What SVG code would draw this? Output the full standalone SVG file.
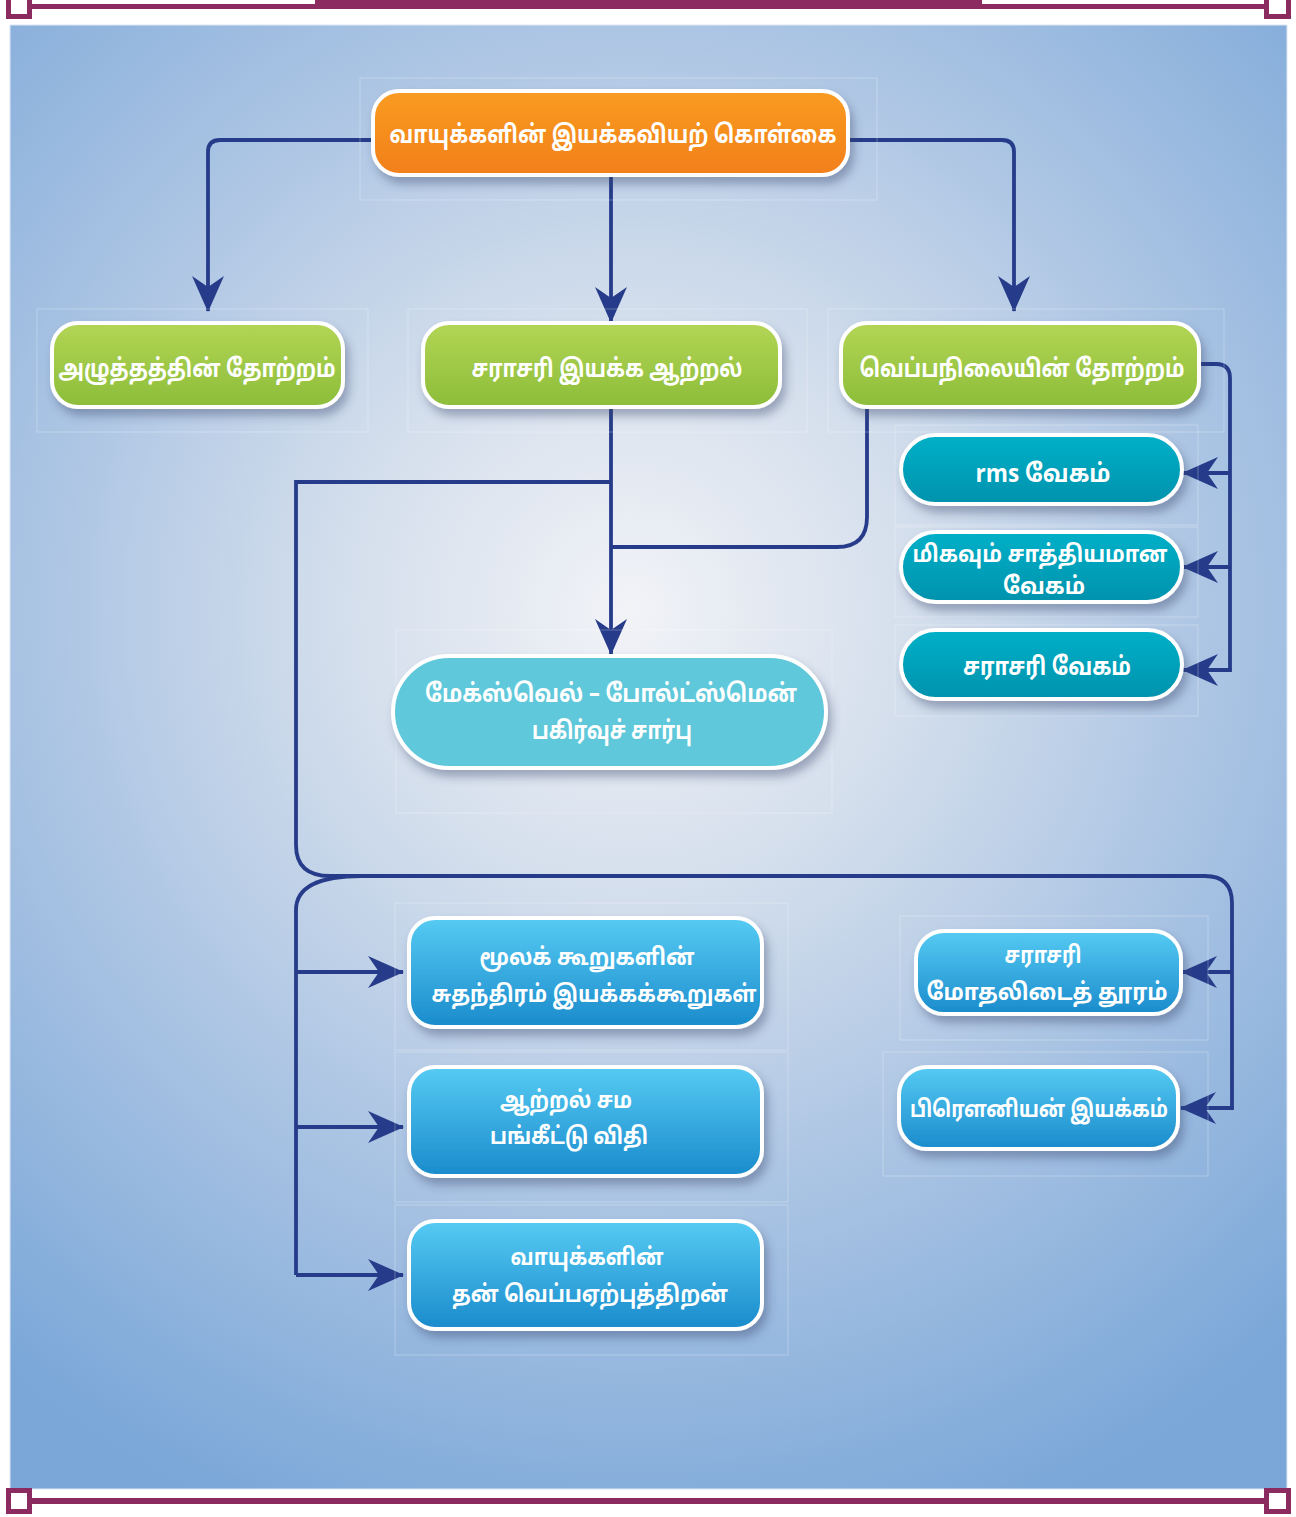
<svg xmlns="http://www.w3.org/2000/svg" width="1296" height="1517" viewBox="0 0 1296 1517">
<style>
.t{font-family:"Noto Sans Tamil","Lohit Tamil","Noto Sans","DejaVu Sans",sans-serif;font-weight:bold;fill:#ffffff;text-anchor:middle}
.f26{font-size:25px}
.f24{font-size:23.5px}
.nb{stroke:#ffffff;stroke-width:4}
.fr{fill:none;stroke:#ffffff;stroke-opacity:0.28;stroke-width:1}
.c{fill:none;stroke:#263c8a;stroke-width:3.8}
.a{fill:none;stroke:#263c8a;stroke-width:3.8;marker-end:url(#ah)}
.pb{fill:#8b2b60}
.sq{fill:#ffffff;stroke:#8b2b60;stroke-width:5}
</style>
<defs>
<radialGradient id="bg" gradientUnits="userSpaceOnUse" cx="630" cy="610" r="980">
<stop offset="0" stop-color="#f2f3f7"/>
<stop offset="0.3" stop-color="#d3deec"/>
<stop offset="0.62" stop-color="#a9c3e3"/>
<stop offset="1" stop-color="#7aa7d8"/>
</radialGradient>
<linearGradient id="gO" x1="0" y1="0" x2="0" y2="1"><stop offset="0" stop-color="#f99c20"/><stop offset="1" stop-color="#f27f1e"/></linearGradient>
<linearGradient id="gG" x1="0" y1="0" x2="0" y2="1"><stop offset="0" stop-color="#b3d555"/><stop offset="1" stop-color="#8cbd3a"/></linearGradient>
<linearGradient id="gT" x1="0" y1="0" x2="0" y2="1"><stop offset="0" stop-color="#00b0c8"/><stop offset="1" stop-color="#0092ad"/></linearGradient>
<linearGradient id="gB" x1="0" y1="0" x2="0" y2="1"><stop offset="0" stop-color="#56cbf3"/><stop offset="1" stop-color="#1a8bcc"/></linearGradient>
<filter id="sh" x="-20%" y="-30%" width="140%" height="170%">
<feDropShadow dx="4" dy="7" stdDeviation="5" flood-color="#34446a" flood-opacity="0.4"/>
</filter>
<marker id="ah" viewBox="0 0 36 32" refX="35" refY="16" markerWidth="36" markerHeight="32" markerUnits="userSpaceOnUse" orient="auto">
<path d="M0,0 L36,16 L0,32 L11,16 Z" fill="#263c8a"/>
</marker>
</defs>

<!-- frame -->
<g id="frame">
<rect x="0" y="0" width="1296" height="1517" fill="#ffffff"/>
<rect x="10" y="25" width="1277" height="1464" fill="url(#bg)" stroke="#dde8f4" stroke-width="1"/>
<rect class="pb" x="28" y="4" width="1240" height="5"/>
<rect class="pb" x="315" y="0" width="667" height="9"/>
<rect class="sq" x="8.5" y="-5" width="21" height="21.5"/>
<rect class="sq" x="1266.5" y="-5" width="22" height="21.5"/>
<rect class="pb" x="28" y="1498" width="1240" height="6"/>
<rect class="sq" x="8.5" y="1490.5" width="21" height="21"/>
<rect class="sq" x="1266.5" y="1490.5" width="22" height="21"/>
</g>

<!-- connectors -->
<g id="connectors">
<path class="a" d="M373,140 H220 Q208,140 208,152 V311"/>
<path class="a" d="M611,175 V322"/>
<path class="a" d="M850,140 H1002 Q1014,140 1014,152 V311"/>
<path class="a" d="M611,407 V654"/>
<path class="c" d="M867,407 V517 Q867,547 837,547 H611"/>
<path class="c" d="M611,482 H296 V845 Q296,876 330,876 H1205 Q1232,876 1232,903 V1108"/>
<path class="c" d="M362,876 Q296,876 296,910 V1275"/>
<path class="a" d="M296,972 H403"/>
<path class="a" d="M296,1127 H403"/>
<path class="a" d="M296,1275 H403"/>
<path class="a" d="M1232,972 H1182"/>
<path class="a" d="M1233.9,1108 H1181"/>
<path class="c" d="M1200,364 H1216 Q1230,364 1230,378 V670"/>
<path class="a" d="M1230,473 H1183"/>
<path class="a" d="M1230,567 H1183"/>
<path class="a" d="M1231.9,670 H1183"/>
</g>

<!-- nodes -->
<g id="n-top">
<rect class="fr" x="360" y="78" width="517" height="122"/>
<rect class="nb" x="373" y="91" width="475" height="84" rx="26" fill="url(#gO)" filter="url(#sh)"/>
<text class="t f26" x="613" y="143" textLength="447" lengthAdjust="spacingAndGlyphs">வாயுக்களின் இயக்கவியற் கொள்கை</text>
</g>
<g id="n-pressure">
<rect class="fr" x="37" y="309" width="331" height="123"/>
<rect class="nb" x="52" y="323" width="291" height="84" rx="26" fill="url(#gG)" filter="url(#sh)"/>
<text class="t f26" x="197" y="377" textLength="277" lengthAdjust="spacingAndGlyphs">அழுத்தத்தின் தோற்றம்</text>
</g>
<g id="n-ke">
<rect class="fr" x="408" y="309" width="399" height="123"/>
<rect class="nb" x="423" y="323" width="357" height="84" rx="26" fill="url(#gG)" filter="url(#sh)"/>
<text class="t f26" x="607" y="377" textLength="271" lengthAdjust="spacingAndGlyphs">சராசரி இயக்க ஆற்றல்</text>
</g>
<g id="n-temp">
<rect class="fr" x="828" y="309" width="396" height="123"/>
<rect class="nb" x="841" y="323" width="358" height="84" rx="26" fill="url(#gG)" filter="url(#sh)"/>
<text class="t f26" x="1022" y="377" textLength="325" lengthAdjust="spacingAndGlyphs">வெப்பநிலையின் தோற்றம்</text>
</g>
<g id="n-rms">
<rect class="fr" x="895" y="425" width="303" height="100"/>
<rect class="nb" x="901" y="435" width="281" height="69" rx="34.5" fill="url(#gT)" filter="url(#sh)"/>
<text class="t f26" x="1043" y="482" textLength="135" lengthAdjust="spacingAndGlyphs">rms வேகம்</text>
</g>
<g id="n-mp">
<rect class="fr" x="895" y="527" width="303" height="90"/>
<rect class="nb" x="901" y="532" width="281" height="70" rx="35" fill="url(#gT)" filter="url(#sh)"/>
<text class="t f24" x="1040" y="562" textLength="255" lengthAdjust="spacingAndGlyphs">மிகவும் சாத்தியமான</text>
<text class="t f24" x="1044" y="594" textLength="82" lengthAdjust="spacingAndGlyphs">வேகம்</text>
</g>
<g id="n-avg">
<rect class="fr" x="895" y="625" width="303" height="91"/>
<rect class="nb" x="901" y="630" width="281" height="69" rx="34.5" fill="url(#gT)" filter="url(#sh)"/>
<text class="t f26" x="1047" y="675" textLength="168" lengthAdjust="spacingAndGlyphs">சராசரி வேகம்</text>
</g>
<g id="n-maxwell">
<rect class="fr" x="396" y="630" width="436" height="183"/>
<rect class="nb" x="393" y="656" width="433" height="112" rx="56" fill="#5ec8da" filter="url(#sh)"/>
<text class="t f26" x="611" y="702" textLength="372" lengthAdjust="spacingAndGlyphs">மேக்ஸ்வெல் – போல்ட்ஸ்மென்</text>
<text class="t f26" x="612" y="739" textLength="160" lengthAdjust="spacingAndGlyphs">பகிர்வுச் சார்பு</text>
</g>
<g id="n-dof">
<rect class="fr" x="395" y="903" width="393" height="147"/>
<rect class="nb" x="409" y="918" width="353" height="109" rx="26" fill="url(#gB)" filter="url(#sh)"/>
<text class="t f24" x="587" y="965" textLength="215" lengthAdjust="spacingAndGlyphs">மூலக் கூறுகளின்</text>
<text class="t f24" x="594" y="1002" textLength="325" lengthAdjust="spacingAndGlyphs">சுதந்திரம் இயக்கக்கூறுகள்</text>
</g>
<g id="n-equi">
<rect class="fr" x="395" y="1052" width="393" height="150"/>
<rect class="nb" x="409" y="1067" width="353" height="109" rx="26" fill="url(#gB)" filter="url(#sh)"/>
<text class="t f24" x="566" y="1108" textLength="132" lengthAdjust="spacingAndGlyphs">ஆற்றல் சம</text>
<text class="t f24" x="569" y="1144" textLength="158" lengthAdjust="spacingAndGlyphs">பங்கீட்டு விதி</text>
</g>
<g id="n-heat">
<rect class="fr" x="395" y="1205" width="393" height="150"/>
<rect class="nb" x="409" y="1221" width="353" height="108" rx="26" fill="url(#gB)" filter="url(#sh)"/>
<text class="t f24" x="587" y="1265" textLength="153" lengthAdjust="spacingAndGlyphs">வாயுக்களின்</text>
<text class="t f24" x="590" y="1302" textLength="276" lengthAdjust="spacingAndGlyphs">தன் வெப்பஏற்புத்திறன்</text>
</g>
<g id="n-mfp">
<rect class="fr" x="900" y="916" width="308" height="124"/>
<rect class="nb" x="916" y="931" width="265" height="83" rx="28" fill="url(#gB)" filter="url(#sh)"/>
<text class="t f24" x="1043" y="963" textLength="77" lengthAdjust="spacingAndGlyphs">சராசரி</text>
<text class="t f24" x="1047" y="1000" textLength="241" lengthAdjust="spacingAndGlyphs">மோதலிடைத் தூரம்</text>
</g>
<g id="n-brown">
<rect class="fr" x="883" y="1052" width="325" height="124"/>
<rect class="nb" x="899" y="1067" width="279" height="82" rx="28" fill="url(#gB)" filter="url(#sh)"/>
<text class="t f24" x="1039" y="1117" textLength="258" lengthAdjust="spacingAndGlyphs">பிரௌனியன் இயக்கம்</text>
</g>
</svg>
